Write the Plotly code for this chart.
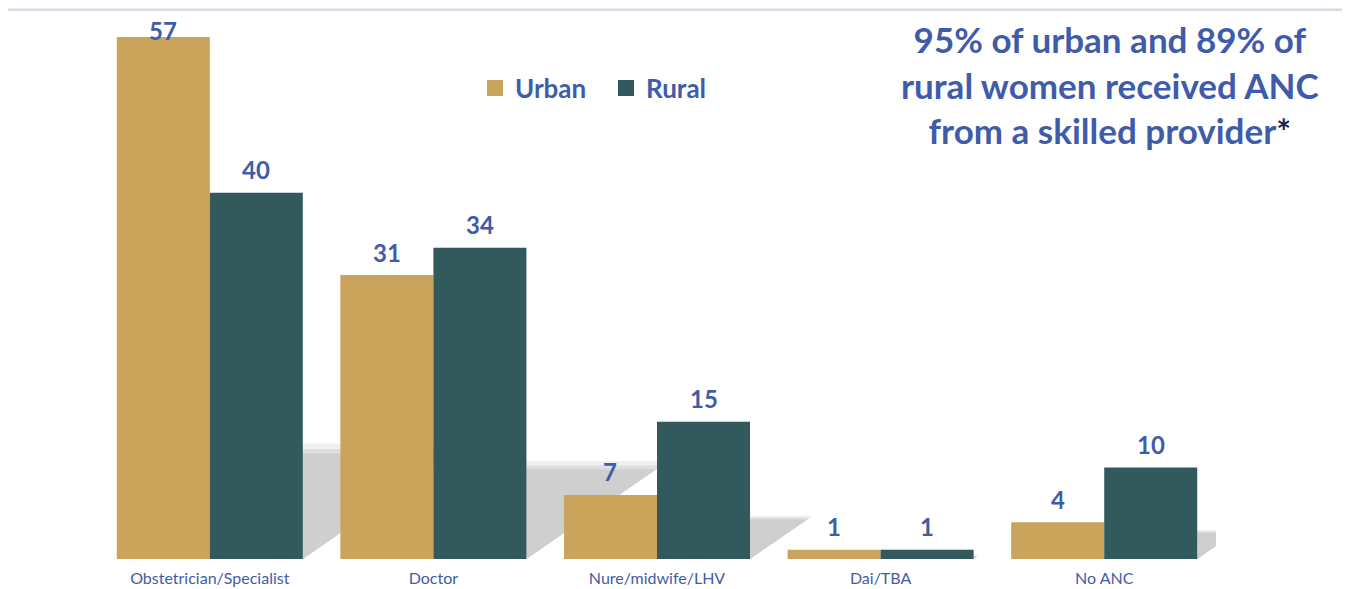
import plotly.graph_objects as go

categories = ["Obstetrician/Specialist", "Doctor", "Nure/midwife/LHV", "Dai/TBA", "No ANC"]
urban = [57, 31, 7, 1, 4]
rural = [40, 34, 15, 1, 10]
series_names = ["Urban", "Rural"]
note_lines = ["95% of urban and 89% of", "rural women received ANC", "from a skilled provider"]

URBAN_C = "#CAA45A"
RURAL_C = "#325A5C"
BLUE = "#3F5CAA"
FONT = "Lato, 'Open Sans', sans-serif"

OFF = 8  # page body margin of the browser
W, H = 1350 - OFF, 589 - OFF
ML, MT = 98 - OFF, 10 - OFF
PLOT_R, PLOT_B = 1216 - OFF, 559 - OFF
MR, MB = W - PLOT_R, H - PLOT_B
PW, PH = W - ML - MR, H - MT - MB
YMAX = 59.95
BARGAP = 0.168
bw = (1 - BARGAP) / 2  # width of one bar in category units
px_per_x = PW / len(categories)
px_per_y = PH / YMAX

def xp(px):
    """reference screen x -> paper coordinate"""
    return (px - OFF - ML) / PW

def yp(py):
    """reference screen y -> paper coordinate"""
    return (PLOT_B - (py - OFF)) / PH

fig = go.Figure()
fig.add_trace(go.Bar(x=categories, y=urban, name=series_names[0], marker_color=URBAN_C,
                     marker_line_width=0, showlegend=False))
fig.add_trace(go.Bar(x=categories, y=rural, name=series_names[1], marker_color=RURAL_C,
                     marker_line_width=0, showlegend=False))
# legend entries with square swatches
for nm, col in zip(series_names, [URBAN_C, RURAL_C]):
    fig.add_trace(go.Scatter(x=[None], y=[None], mode="markers", name=f"<b>{nm}</b>",
                             marker=dict(symbol="square", size=16, color=col)))

shapes = []
shapes.append(dict(type="rect", xref="paper", yref="paper", layer="below",
                   x0=xp(-20), x1=xp(1370), y0=yp(620), y1=yp(-20),
                   fillcolor="#E9ECF5", line_width=0))
shapes.append(dict(type="rect", xref="paper", yref="paper", layer="below",
                   x0=xp(5), x1=xp(1347), y0=yp(620), y1=yp(10),
                   fillcolor="white", line=dict(color="#DADCE2", width=2)))
# soft cast shadows behind the rural bars (layered for a blurred edge)
for i, v in enumerate(rural):
    xr = i + bw
    ts = v * 0.3
    L = ts * px_per_y / 0.69 / px_per_x
    for grow, op in [(1.05, 0.3), (1.0, 0.5), (0.96, 0.85)]:
        t2 = ts * grow
        L2 = L * grow
        shapes.append(dict(type="path", xref="x", yref="y", layer="below",
                           path=f"M {xr},0 L {xr},{t2} L {xr + L2},{t2} Z",
                           fillcolor="#CCCCCC", line_width=0, opacity=op))

annotations = []
for series, sgn in ((urban, -1), (rural, 1)):
    for c, v in zip(categories, series):
        top_px = MT + (YMAX - v) * px_per_y
        shift = min(23, top_px - (30 - OFF))
        annotations.append(dict(x=c, y=v, xref="x", yref="y", text=f"<b>{v}</b>",
                                showarrow=False, xshift=sgn * bw * px_per_x / 2,
                                yshift=shift, yanchor="middle",
                                font=dict(size=24, color=BLUE, family=FONT)))
note_text = "<br>".join(f"<b>{t}</b>" for t in note_lines[:-1]) + \
    f"<br><b>{note_lines[-1]}</b><b><span style='color:#1E2050'>*</span></b>"
annotations.append(dict(x=xp(1110), y=yp(84), xref="paper", yref="paper", text=note_text,
                        showarrow=False, xanchor="center", yanchor="middle", align="center",
                        font=dict(size=35, color=BLUE, family=FONT)))

fig.update_layout(
    width=W, height=H,
    margin=dict(l=ML, r=MR, t=MT, b=MB, autoexpand=False),
    paper_bgcolor="#E9ECF5", plot_bgcolor="rgba(0,0,0,0)",
    barmode="group", bargap=BARGAP, bargroupgap=0,
    xaxis=dict(showgrid=False, zeroline=False, showline=False, ticks="",
               tickfont=dict(size=16, color=BLUE, family=FONT), range=[-0.5, 4.5],
               ticklabelstandoff=8, automargin=False),
    yaxis=dict(range=[0, YMAX], visible=False, automargin=False),
    legend=dict(orientation="h", x=xp(475), y=yp(88), xanchor="left", yanchor="middle",
                font=dict(size=26, color=BLUE, family=FONT), bgcolor="rgba(0,0,0,0)",
                itemwidth=30, traceorder="normal", entrywidth=86, entrywidthmode="pixels"),
    shapes=shapes, annotations=annotations,
    font=dict(family=FONT),
)
fig.write_html("out.html")
